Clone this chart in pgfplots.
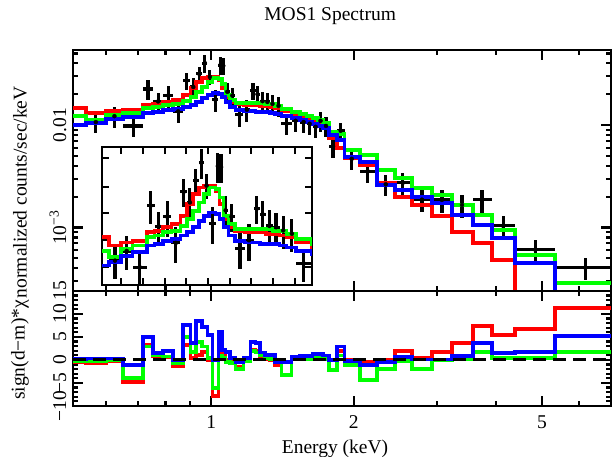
\documentclass[border=0pt]{standalone}
\usepackage{fontspec}
\setmainfont{Liberation Serif}
\usepackage{pgfplots}
\usepackage{pgfplotstable}
\pgfplotsset{compat=1.18}

\definecolor{xred}{rgb}{1,0,0}
\definecolor{xgreen}{rgb}{0,1,0}
\definecolor{xblue}{rgb}{0,0,1}

% data: bin centre, bin edges, counts, error
\pgfplotstableread{
E lo hi C dC
0.570 0.543 0.599 0.0107 0.0024
0.624 0.599 0.651 0.0122 0.0028
0.684 0.651 0.718 0.0098 0.0022
0.735 0.718 0.753 0.0225 0.0050
0.772 0.753 0.791 0.0170 0.0036
0.811 0.791 0.831 0.0194 0.0047
0.851 0.831 0.872 0.0136 0.0032
0.887 0.872 0.903 0.0271 0.0051
0.916 0.903 0.929 0.0235 0.0052
0.943 0.929 0.957 0.0316 0.0053
0.969 0.957 0.981 0.0402 0.0080
0.993 0.981 1.005 0.0295 0.0049
1.020 1.005 1.035 0.0177 0.0043
1.045 1.035 1.053 0.0384 0.0077
1.060 1.053 1.071 0.0379 0.0072
1.081 1.071 1.094 0.0211 0.0047
1.108 1.094 1.124 0.0194 0.0037
1.147 1.124 1.169 0.0126 0.0031
1.189 1.169 1.210 0.0141 0.0034
1.225 1.210 1.240 0.0216 0.0041
1.252 1.240 1.267 0.0200 0.0040
1.283 1.267 1.298 0.0171 0.0040
1.314 1.298 1.330 0.0168 0.0037
1.347 1.330 1.363 0.0161 0.0035
1.387 1.363 1.407 0.0154 0.0034
1.442 1.407 1.478 0.0103 0.0023
1.507 1.478 1.540 0.0110 0.0024
1.567 1.540 1.590 0.0107 0.0024
1.614 1.590 1.637 0.0103 0.0023
1.662 1.637 1.682 0.0096 0.0021
1.702 1.682 1.723 0.0110 0.0024
1.748 1.723 1.775 0.0098 0.0022
1.809 1.775 1.845 0.0062 0.0014
1.877 1.845 1.914 0.0088 0.0017
1.981 1.914 2.060 0.00468 0.00104
2.141 2.060 2.238 0.00354 0.00082
2.338 2.238 2.443 0.00264 0.00061
2.541 2.443 2.655 0.00274 0.00067
2.788 2.655 2.927 0.00187 0.00045
3.073 2.927 3.228 0.00186 0.00047
3.389 3.228 3.575 0.00166 0.00042
3.735 3.575 3.923 0.00186 0.00047
4.140 3.923 4.389 0.00104 0.00025
4.839 4.389 5.336 0.000608 0.000147
6.178 5.336 7.000 0.000406 0.000098
}\spec

% folded models, lower bin edge
\pgfplotstableread{
E red green blue
0.509 0.0147 0.0122 0.0100
0.543 0.0131 0.0112 0.0105
0.599 0.0137 0.0125 0.0114
0.651 0.0140 0.0131 0.0120
0.718 0.0157 0.0147 0.0131
0.753 0.0160 0.0150 0.0134
0.791 0.0168 0.0157 0.0140
0.831 0.0175 0.0160 0.0143
0.872 0.0196 0.0171 0.0150
0.903 0.0230 0.0188 0.0157
0.929 0.0263 0.0210 0.0168
0.957 0.0287 0.0235 0.0183
0.981 0.0294 0.0263 0.0196
1.005 0.0294 0.0287 0.0205
1.035 0.0275 0.0281 0.0201
1.053 0.0230 0.0251 0.0188
1.071 0.0188 0.0196 0.0168
1.094 0.0168 0.0175 0.0150
1.124 0.0160 0.0164 0.0140
1.169 0.0157 0.0164 0.0137
1.210 0.0157 0.0164 0.0137
1.240 0.0157 0.0164 0.0134
1.267 0.0153 0.0164 0.0134
1.298 0.0153 0.0160 0.0134
1.330 0.0150 0.0160 0.0131
1.363 0.0147 0.0153 0.0128
1.407 0.0137 0.0143 0.0122
1.478 0.0128 0.0134 0.0117
1.540 0.0120 0.0128 0.0112
1.590 0.0114 0.0122 0.0107
1.637 0.0109 0.0117 0.0102
1.682 0.0102 0.0112 0.00978
1.723 0.00956 0.0105 0.00935
1.775 0.00747 0.00855 0.00799
1.845 0.00596 0.00817 0.00714
1.914 0.00477 0.00571 0.00487
2.060 0.00407 0.00510 0.00436
2.238 0.00272 0.00364 0.00260
2.443 0.00198 0.00304 0.00232
2.655 0.00166 0.00243 0.00198
2.927 0.00129 0.00207 0.00173
3.228 0.000904 0.00166 0.00132
3.575 0.000706 0.00132 0.00106
3.923 0.000482 0.000946 0.000790
4.389 0.0001 0.000539 0.000450
5.336 0.0001 0.000287 0.0001
7.000 0.0001 0.000287 0.0001
}\model

% sign(d-m)*chi, lower bin edge
\pgfplotstableread{
E red green blue
0.509 -0.5 -0.2 0.2
0.543 -0.6 -0.3 0.3
0.599 -0.2 0.0 0.3
0.651 -4.8 -3.9 -1.1
0.718 3.3 2.9 5.0
0.753 0.9 1.0 1.5
0.791 0.6 0.8 2.0
0.831 -1.3 -0.7 0.0
0.872 3.3 5.0 7.6
0.903 0.4 1.8 3.7
0.929 1.1 3.9 8.5
0.957 1.8 2.9 7.2
0.981 0.0 0.4 5.4
1.005 -7.8 -6.1 0.0
1.035 2.2 1.0 6.1
1.053 1.5 0.5 2.2
1.071 0.0 -0.4 1.7
1.094 0.0 -0.6 0.4
1.124 -1.5 -2.0 -0.4
1.169 0.0 -0.2 0.4
1.210 2.3 2.0 3.9
1.240 2.0 1.6 3.7
1.267 0.4 1.0 1.6
1.298 0.2 0.4 1.1
1.330 0.0 0.2 1.1
1.363 -1.1 -0.3 -0.4
1.407 -0.4 -3.3 -0.4
1.478 0.4 0.2 0.6
1.540 0.6 0.4 0.9
1.590 0.6 0.2 0.9
1.637 0.4 0.4 1.3
1.682 0.4 0.6 1.3
1.723 0.3 0.2 1.0
1.775 0.0 -2.2 0.0
1.845 2.0 1.0 2.9
1.914 0.0 -1.1 -0.2
2.060 -0.4 -4.3 -1.1
2.238 0.0 -2.0 -0.4
2.443 2.0 -0.2 0.6
2.655 0.4 -2.0 0.1
2.927 1.7 0.0 0.1
3.228 3.7 0.2 0.9
3.575 7.4 1.7 3.7
3.923 5.4 0.4 1.5
4.389 6.7 0.4 1.7
5.336 11.3 1.7 5.2
7.000 11.3 1.7 5.2
}\resid

\pgfplotsset{
  xspec/.style={
    scale only axis,
    xmin=0.51, xmax=7,
    axis line style={line width=2.8pt},
    every tick/.style={black, line width=2.2pt},
    major tick length=10pt, minor tick length=5pt,
    tick align=inside,
    xtick={1,2,5},
    minor xtick={0.6,0.7,0.8,0.9,3,4,6,7},
    yticklabel style={rotate=90, anchor=south},
    xticklabel style={yshift=-3pt},
  },
  datapts/.style={
    only marks, mark=none,
    error bars/x dir=both, error bars/x explicit,
    error bars/y dir=both, error bars/y explicit,
    error bars/error mark=none,
    error bars/error bar style={black, solid, line width=3.2pt},
  },
  mdl/.style={const plot, no marks, line width=3.6pt},
}

\begin{document}
\fontsize{19.5}{23}\selectfont
\begin{tikzpicture}

% spectrum
\begin{axis}[xmode=log, ymode=log, xspec,
  at={(73pt,166pt)}, anchor=south west,
  width=538pt, height=241pt,
  ymin=2.4e-4, ymax=0.054,
  xticklabels={},
  ytick={0.001,0.01},
  yticklabels={10\textsuperscript{−3},0.01},
  minor ytick={3e-4,4e-4,5e-4,6e-4,7e-4,8e-4,9e-4,0.002,0.003,0.004,0.005,0.006,0.007,0.008,0.009,0.02,0.03,0.04,0.05},
  title={MOS1 Spectrum},
  title style={at={(axis description cs:0.478,1)}, anchor=center, yshift=28pt},
  ylabel={normalized counts/sec/keV},
  ylabel style={at={(axis description cs:-0.0985,0.41)}, anchor=center},
]
\addplot[datapts] table[x=E, y=C,
  x error plus expr=\thisrow{hi}-\thisrow{E},
  x error minus expr=\thisrow{E}-\thisrow{lo},
  y error=dC] {\spec};
\addplot[mdl, xred] table[x=E, y=red] {\model};
\addplot[mdl, xgreen] table[x=E, y=green] {\model};
\addplot[mdl, xblue] table[x=E, y=blue] {\model};
\end{axis}

% inset: linear energy, log counts
\begin{axis}[ymode=log,
  at={(102pt,172pt)}, anchor=south west,
  scale only axis, width=210pt, height=138pt,
  xmin=0.51, xmax=1.48, ymin=0.0077, ymax=0.0497,
  axis background/.style={fill=white},
  axis line style={line width=2.4pt},
  every tick/.style={black, line width=2pt},
  major tick length=7pt, tick align=inside,
  xtick={0.6,0.7,0.8,0.9,1.0,1.1,1.2,1.3,1.4},
  ytick={0.0098,0.0141,0.0204,0.029,0.043},
  xticklabels={}, yticklabels={},
]
\addplot[datapts] table[x=E, y=C,
  x error plus expr=\thisrow{hi}-\thisrow{E},
  x error minus expr=\thisrow{E}-\thisrow{lo},
  y error=dC] {\spec};
\addplot[mdl, xred] table[x=E, y=red] {\model};
\addplot[mdl, xgreen] table[x=E, y=green] {\model};
\addplot[mdl, xblue] table[x=E, y=blue] {\model};
\end{axis}

% residuals
\begin{axis}[xmode=log, xspec,
  at={(73pt,51pt)}, anchor=south west,
  width=538pt, height=115pt,
  ymin=-10, ymax=15,
  xticklabels={1,2,5},
  ytick={-10,-5,0,5,10,15},
  yticklabels={−10,−5,0,5,10,15},
  minor y tick num=4,
  xlabel={Energy (keV)},
  xlabel style={at={(axis description cs:0.487,0)}, anchor=center, yshift=-43pt},
  ylabel={sign(d−m)*χ},
  ylabel style={at={(axis description cs:-0.0985,0.487)}, anchor=center},
]
\addplot[mdl, xred] table[x=E, y=red] {\resid};
\addplot[mdl, xgreen] table[x=E, y=green] {\resid};
\addplot[mdl, xblue] table[x=E, y=blue] {\resid};
\addplot[black, line width=3pt, dash pattern=on 13pt off 7pt] coordinates {(0.51,0) (7,0)};
\end{axis}

\pgfresetboundingbox
\useasboundingbox (0,0) rectangle (616pt,457pt);
\end{tikzpicture}
\end{document}
